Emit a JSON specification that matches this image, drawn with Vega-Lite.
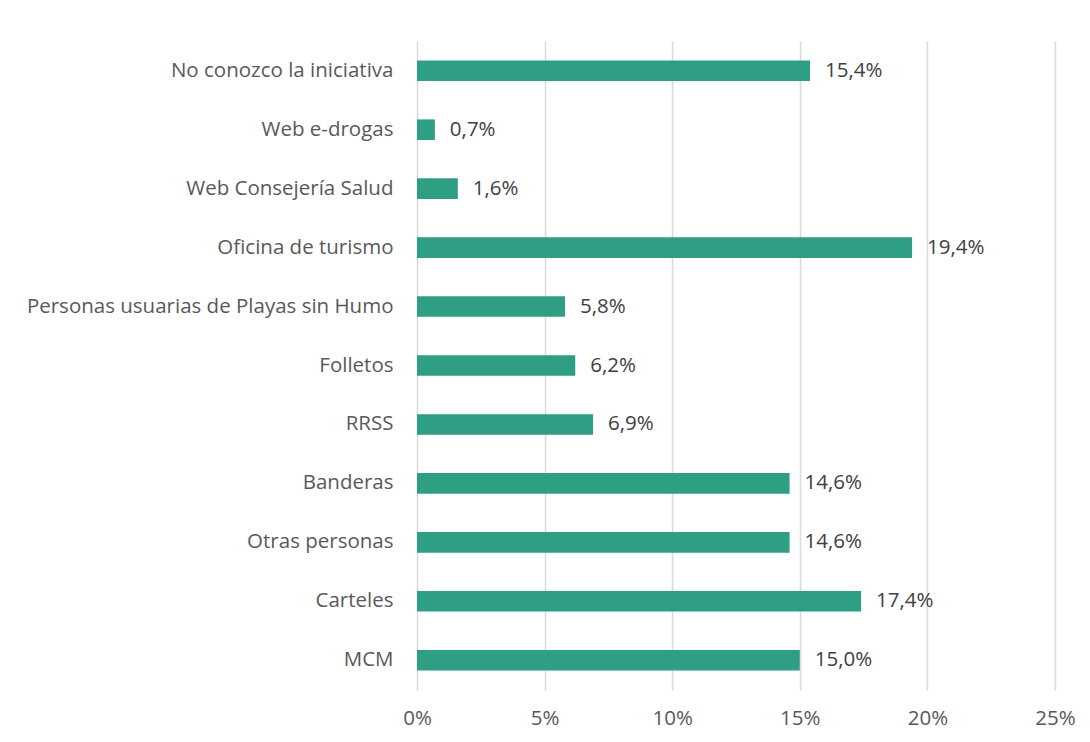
{
  "$schema": "https://vega.github.io/schema/vega-lite/v6.json",
  "autosize": {"type": "none"},
  "width": 638,
  "height": 649,
  "padding": {"left": 417, "top": 41, "right": 35, "bottom": 52},
  "background": "white",
  "config": {
    "view": {"stroke": null},
    "locale": {"number": {"decimal": ",", "thousands": ".", "grouping": [3], "currency": ["", " €"]}},
    "font": "Open Sans"
  },
  "data": {"values": [
    {"categoria": "No conozco la iniciativa", "valor": 0.154},
    {"categoria": "Web e-drogas", "valor": 0.007},
    {"categoria": "Web Consejería Salud", "valor": 0.016},
    {"categoria": "Oficina de turismo", "valor": 0.194},
    {"categoria": "Personas usuarias de Playas sin Humo", "valor": 0.058},
    {"categoria": "Folletos", "valor": 0.062},
    {"categoria": "RRSS", "valor": 0.069},
    {"categoria": "Banderas", "valor": 0.146},
    {"categoria": "Otras personas", "valor": 0.146},
    {"categoria": "Carteles", "valor": 0.174},
    {"categoria": "MCM", "valor": 0.150}
  ]},
  "encoding": {
    "y": {"field": "categoria", "type": "nominal", "sort": null,
      "scale": {"paddingInner": 0.65, "paddingOuter": 0.33},
      "axis": {"title": null, "ticks": false, "domain": false, "labelFontSize": 20.5, "labelColor": "#595959", "labelPadding": 24, "labelLimit": 420, "labelFont": "Open Sans"}},
    "x": {"field": "valor", "type": "quantitative",
      "scale": {"domain": [0, 0.25], "nice": false},
      "axis": {"title": null, "format": ".0%", "values": [0, 0.05, 0.1, 0.15, 0.2, 0.25], "ticks": false, "domain": false, "grid": true, "gridColor": "#d9d9d9", "gridWidth": 1.5, "labelFontSize": 20.5, "labelColor": "#595959", "labelPadding": 18, "labelFlush": false, "labelFont": "Open Sans"}}
  },
  "layer": [
    {"mark": {"type": "bar", "color": "#2e9e85"}},
    {"mark": {"type": "text", "align": "left", "dx": 15, "fontSize": 20.5, "color": "#404040", "font": "Open Sans"},
      "encoding": {"text": {"field": "valor", "type": "quantitative", "format": ".1%"}}}
  ]
}
